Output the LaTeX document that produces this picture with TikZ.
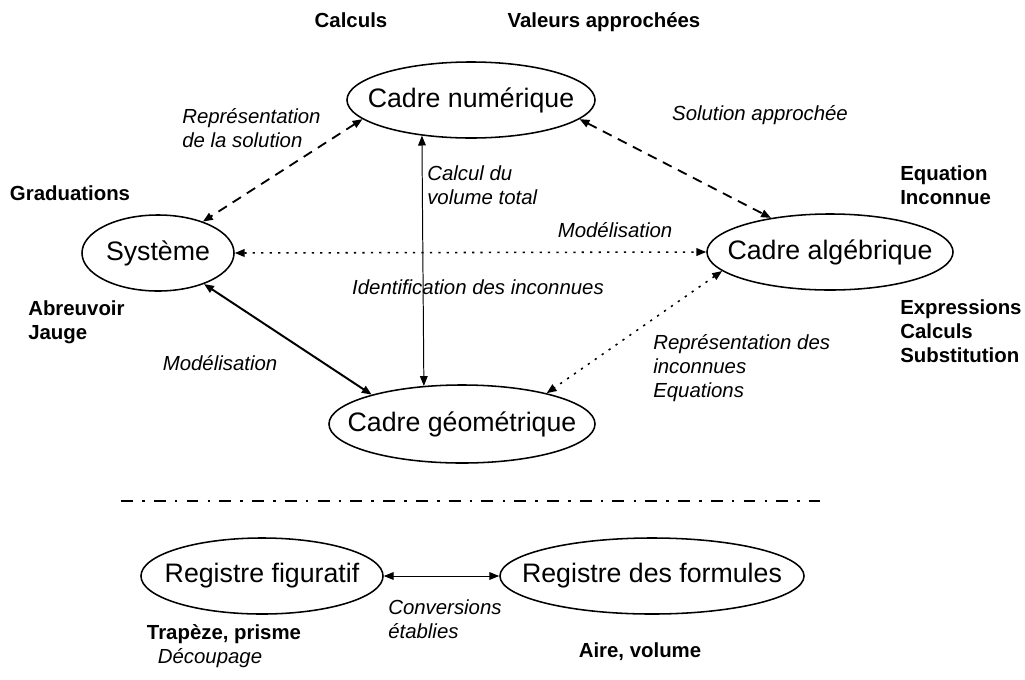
\documentclass[tikz,border=0pt]{standalone}
\usepackage{fontspec}
\setmainfont{Liberation Sans}
\usetikzlibrary{shapes.geometric,arrows.meta}
\newcommand{\cadrefont}{\fontsize{19}{22}\selectfont}
\newcommand{\notefont}{\fontsize{14.5}{17}\selectfont\itshape}
\newcommand{\motfont}{\fontsize{14.5}{17}\selectfont\bfseries}
\begin{document}
\begin{tikzpicture}[x=0.025cm,y=-0.025cm,
  cadre/.style={ellipse,draw,line width=1.1pt,minimum height=1.9cm,inner sep=0pt},
  every label/.style={font=\cadrefont,inner sep=0pt},
  note/.style={font=\notefont,inner sep=0pt,align=left},
  mot/.style={font=\motfont,inner sep=0pt,align=left},
  deuxbouts/.style={{Triangle[length=7pt,width=5.5pt]}-{Triangle[length=7pt,width=5.5pt]}},
  tirets/.style={deuxbouts,line width=1.3pt,dash pattern=on 7pt off 5pt},
  points/.style={deuxbouts,line width=1.1pt,dash pattern=on 1.6pt off 4.4pt}]
\useasboundingbox (0,0) rectangle (1025,679);
\node[cadre,minimum width=6.2cm,label=center:Cadre numérique] (num) at (471,100) {};
\node[cadre,minimum width=3.8cm,label=center:Système] (sys) at (158,253) {};
\node[cadre,minimum width=6.15cm,label=center:Cadre algébrique] (alg) at (830,252) {};
\node[cadre,minimum width=6.65cm,minimum height=1.95cm,label=center:Cadre géométrique] (geo) at (462,424) {};
\node[cadre,minimum width=6.05cm,label=center:Registre figuratif] (fig) at (262,576) {};
\node[cadre,minimum width=7.6cm,label=center:Registre des formules] (form) at (652,576) {};
\node[mot] (calc) at (351,20) {Calculs};
\node[mot] (val) at (604,22) {Valeurs approchées};
\node[mot] (grad) at (70,193) {Graduations};
\node[mot,anchor=west] (abr) at (28,322) {Abreuvoir\\Jauge};
\node[mot,anchor=west] (equ) at (900,185) {Equation\\Inconnue};
\node[mot,anchor=west] (expr) at (900,331) {Expressions\\Calculs\\Substitution};
\node[mot] (trap) at (224,634) {Trapèze, prisme};
\node[mot] (aire) at (640,652) {Aire, volume};
\node[note,anchor=west] (rsol) at (182,128) {Représentation\\de la solution};
\node[note] (sapp) at (760,115) {Solution approchée};
\node[note,anchor=west] (cvol) at (427,185) {Calcul du\\volume total};
\node[note] (mod1) at (615,230) {Modélisation};
\node[note] (iden) at (478,287) {Identification des inconnues};
\node[note] (mod2) at (220,363) {Modélisation};
\node[note,anchor=west] (rinc) at (653,368) {Représentation des\\inconnues\\Equations};
\node[note,anchor=west] (conv) at (388,619) {Conversions\\établies};
\node[note] (dec) at (210,658) {Découpage};
\draw[tirets] (num.190) -- (sys.35);
\draw[tirets] (num.-10) -- (alg.150);
\draw[points] (sys.east) -- (alg.west);
\draw[deuxbouts,line width=0.7pt] (num.216) -- (geo.135.5);
\draw[deuxbouts,line width=1.4pt] (sys.-34) -- (geo.162);
\draw[points] (alg.190) -- (geo.20);
\draw[line width=1.4pt,dash pattern=on 8.5pt off 6.5pt on 1.8pt off 6.5pt] (121,501) -- (820,501);
\draw[deuxbouts,line width=0.7pt] (fig.east) -- (form.west);
\end{tikzpicture}
\end{document}
